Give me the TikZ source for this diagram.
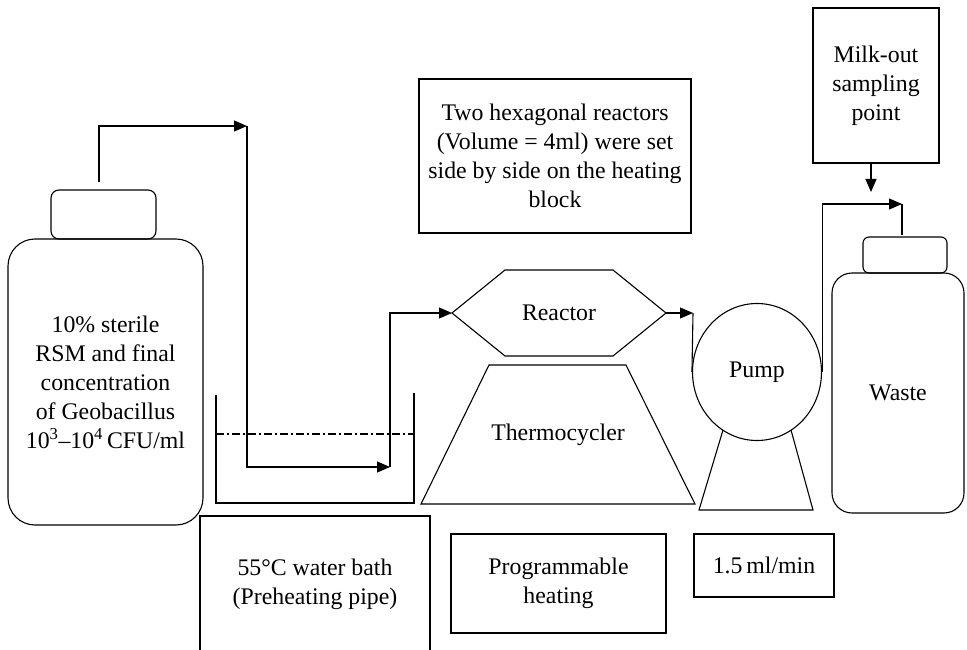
\documentclass[tikz,border=0pt]{standalone}
\usepackage{fontspec}
\setmainfont{Liberation Serif}
\usetikzlibrary{arrows.meta,shapes.geometric}

\tikzset{
  base/.style={line width=1.1pt, draw=black},
  txt/.style={align=center, font=\fontsize{23.8}{29}\selectfont, inner sep=0pt},
  box/.style={base, rectangle, txt},
  bottle/.style={base, rectangle, rounded corners=#1},
  flow/.style={line width=1.1pt, -{Triangle[length=13pt,width=11pt]}},
  pipe/.style={line width=1.1pt},
  level/.style={line width=1.05pt, dash pattern=on 8pt off 3pt on 2pt off 3pt},
}

\begin{document}
\begin{tikzpicture}[x=1pt,y=-1pt]
\useasboundingbox (0,0) rectangle (967,650);

% feed bottle
\node[bottle=27pt, minimum width=195pt, minimum height=286pt, txt] (feed) at (105.5,382)
  {10\% sterile\\RSM and final\\concentration\\of Geobacillus\\10\textsuperscript{3}--10\textsuperscript{4}\,CFU/ml};
\node[bottle=8pt, minimum width=105pt, minimum height=49pt] (feedcap) at (103.5,214.5) {};

% water bath walls and water level
\coordinate (bathTL) at (216,395);
\coordinate (bathTR) at (414,393);
\draw[pipe] (bathTL) -- (216,503) -- (414,503) -- (bathTR);
\draw[level] (216,434) -- (414,434);

% reactor (hexagon) and thermocycler (trapezoid)
\coordinate (reacW) at (452,313);
\coordinate (reacE) at (666,313);
\draw[base] (reacW) -- (505,270) -- (613,270) -- (reacE) -- (613,356) -- (505,356) -- cycle;
\node[txt] (reactor) at (559,313) {Reactor};
\draw[base] (421,504) -- (489,365) -- (626,365) -- (695,504) -- cycle;
\node[txt] (thermo) at (558,435) {Thermocycler};

% pump
\node[base, ellipse, minimum width=129pt, minimum height=137pt, inner sep=0pt, txt] (pump) at (757,372) {Pump};
\draw[base] (723,430) -- (699,510) -- (813,510) -- (791,430);

% waste bottle
\node[bottle=20pt, minimum width=132pt, minimum height=240pt, txt] (waste) at (898,393) {Waste};
\node[bottle=6pt, minimum width=84pt, minimum height=36pt] (wastecap) at (905,255) {};

% text boxes
\node[box, minimum width=126pt, minimum height=155pt] (milk) at (876,85.5)
  {Milk-out\\sampling\\point};
\node[box, minimum width=272pt, minimum height=154pt] (hexnote) at (555,156)
  {Two hexagonal reactors\\(Volume = 4ml) were set\\side by side on the heating\\block};
\draw[pipe] (200,652) -- (200,516) -- (430,516) -- (430,652);
\node[txt] (bathnote) at (315,584) {55°C water bath\\(Preheating pipe)};
\node[box, minimum width=215pt, minimum height=99pt] (heatnote) at (558.5,583.5)
  {Programmable\\heating};
\node[box, minimum width=140pt, minimum height=63pt] (rate) at (764,565.5) {1.5\,ml/min};

% flow path
\coordinate (feedout) at (99,182);
\coordinate (bend1) at (247,126);
\coordinate (bend2) at (390,467);
\coordinate (reacin) at (693,313);
\coordinate (wastein) at (902,204);
\coordinate (wastetop) at (902,235);
\coordinate (sample) at (871,192);

\draw[flow] (feedout) |- (bend1);
\draw[flow] (bend1) |- (bend2);
\draw[flow] (bend2) |- (reacW);
\draw[flow] (reacE) -- (reacin);
\draw[pipe] (reacin) -- (pump.west);
\draw[flow] (pump.east) |- (wastein);
\draw[pipe] (wastein) -- (wastetop);
\draw[flow] (milk.south -| sample) -- (sample);
\end{tikzpicture}
\end{document}
